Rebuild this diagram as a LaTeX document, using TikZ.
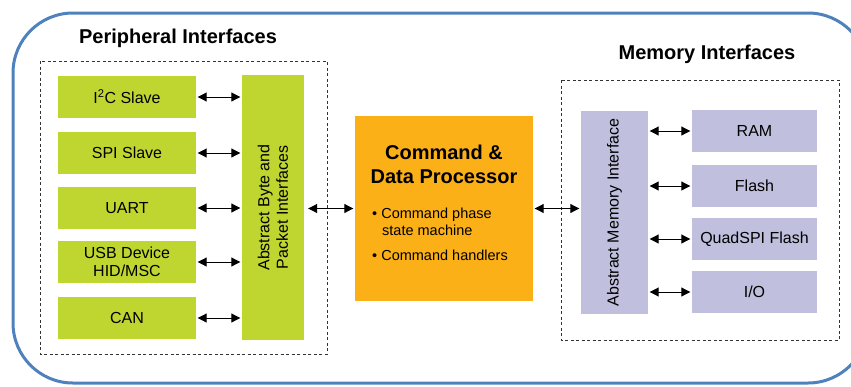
\documentclass[tikz,border=0pt]{standalone}
\usepackage{fontspec}
\setmainfont{Liberation Sans}
\usetikzlibrary{arrows.meta,positioning}
\definecolor{frameblue}{RGB}{79,129,189}
\definecolor{periphgreen}{RGB}{192,214,48}
\definecolor{cmdorange}{RGB}{251,176,23}
\definecolor{memlilac}{RGB}{192,192,222}
\tikzset{
  box font/.style={font=\fontsize{16}{18.5}\selectfont},
  title font/.style={font=\bfseries\fontsize{20}{24}\selectfont},
  periph box/.style={
    fill=periphgreen,
    minimum width=138pt,
    minimum height=42pt,
    inner sep=0pt,
    align=center,
    box font
  },
  mem box/.style={
    fill=memlilac,
    minimum width=125pt,
    minimum height=42pt,
    inner sep=0pt,
    box font
  },
  group box/.style={draw=black!80, line width=0.9pt, dash pattern=on 3pt off 2.5pt},
  link/.style={
    {Triangle[length=9pt,width=9pt]}-{Triangle[length=9pt,width=9pt]},
    line width=1pt,
    shorten <=1.5pt,
    shorten >=1.5pt
  }
}

\begin{document}
\begin{tikzpicture}[x=1pt,y=-1pt]

  \clip (0, 0) rectangle (851, 386);
  \draw[frameblue, line width=3pt, rounded corners=60pt] (13, 13) rectangle (868, 383);

  % peripheral side
  \node[title font] (periphtitle) at (178, 38) {Peripheral Interfaces};
  \draw[group box] (40, 61) rectangle (327, 354);

  \node[periph box] (i2c) at (127, 97) {I\textsuperscript{2}C Slave};
  \node[periph box] (spi) at (127, 153) {SPI Slave};
  \node[periph box] (uart) at (127, 208) {UART};
  \node[periph box] (usb) at (127, 262) {USB Device\\HID/MSC};
  \node[periph box] (can) at (127, 318) {CAN};

  \node[fill=periphgreen, minimum width=62pt, minimum height=265pt, inner sep=0pt] (abyte) at (273, 207.5) {};
  \node[box font, rotate=90, align=center] (abytetext) at (abyte) {Abstract Byte and\\Packet Interfaces};

  \foreach \p in {i2c, spi, uart, usb, can}
    \draw[link] (\p.east) -- (abyte.west |- \p.east);

  % processor
  \node[fill=cmdorange, minimum width=178pt, minimum height=185pt, inner sep=0pt] (cmd) at (444, 208.5) {};
  \node[title font, align=center] (cmdtitle) at (444, 164) {Command \&\\Data Processor};
  \node[anchor=north west, align=left, inner sep=0pt, font=\fontsize{14.5}{16.5}\selectfont] (cmdlist) at (372, 208)
    {\textbullet\ Command phase\\\hspace{10pt}state machine\\[9pt]\textbullet\ Command handlers};

  \draw[link, shorten <=4pt] (abyte.east |- cmd.west) -- (cmd.west);

  % memory side
  \node[title font] (memtitle) at (707, 54) {Memory Interfaces};
  \draw[group box] (561, 80) rectangle (839, 340);

  \node[fill=memlilac, minimum width=67pt, minimum height=203pt, inner sep=0pt] (amem) at (614.5, 212.5) {};
  \node[box font, rotate=90] (amemtext) at (amem) {Abstract Memory Interface};

  \node[mem box] (ram) at (754.5, 131) {RAM};
  \node[mem box] (flash) at (754.5, 186) {Flash};
  \node[mem box] (qspi) at (754.5, 239) {QuadSPI Flash};
  \node[mem box] (io) at (754.5, 292) {I/O};

  \foreach \m in {ram, flash, qspi, io}
    \draw[link] (amem.east |- \m.west) -- (\m.west);

  \draw[link] (cmd.east) -- (amem.west |- cmd.east);

\end{tikzpicture}
\end{document}
